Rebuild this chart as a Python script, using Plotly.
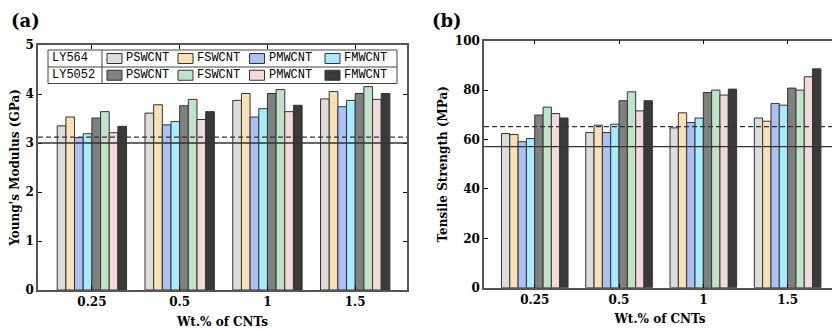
import plotly.graph_objects as go

# ---------------- data ----------------
categories = ["0.25", "0.5", "1", "1.5"]
filler_names = ["PSWCNT", "FSWCNT", "PMWCNT", "FMWCNT"]
resin_names = ["LY564", "LY5052"]

# Young's modulus (GPa)
mod_ly564_pswcnt = [3.35, 3.61, 3.87, 3.90]
mod_ly564_fswcnt = [3.53, 3.78, 4.01, 4.05]
mod_ly564_pmwcnt = [3.11, 3.37, 3.53, 3.74]
mod_ly564_fmwcnt = [3.19, 3.44, 3.70, 3.87]
mod_ly5052_pswcnt = [3.51, 3.76, 4.01, 4.01]
mod_ly5052_fswcnt = [3.64, 3.89, 4.09, 4.15]
mod_ly5052_pmwcnt = [3.21, 3.48, 3.64, 3.89]
mod_ly5052_fmwcnt = [3.34, 3.64, 3.77, 4.01]

# Tensile strength (MPa)
ts_ly564_pswcnt = [62.4, 62.8, 64.7, 68.7]
ts_ly564_fswcnt = [62.0, 65.8, 70.8, 67.4]
ts_ly564_pmwcnt = [59.1, 62.8, 66.9, 74.6]
ts_ly564_fmwcnt = [60.4, 66.2, 68.7, 73.9]
ts_ly5052_pswcnt = [69.9, 75.7, 79.0, 80.8]
ts_ly5052_fswcnt = [73.1, 79.3, 80.0, 80.0]
ts_ly5052_pmwcnt = [70.5, 71.6, 78.0, 85.4]
ts_ly5052_fmwcnt = [68.7, 75.7, 80.4, 88.6]

# neat resin reference values
neat_modulus = [3.0, 3.12]      # LY564 (solid), LY5052 (dashed)
neat_strength = [57.1, 65.2]

# ---------------- style ----------------
colors_ly564 = ["#dcdcdc", "#f8e1b6", "#abc0f5", "#a8ecfb"]
colors_ly5052 = ["#808080", "#c0e2c6", "#f3dada", "#3a3a3a"]
edge = "#333333"
axcol = "#555555"
FONT = "DejaVu Serif"

modulus_series = [mod_ly564_pswcnt, mod_ly564_fswcnt, mod_ly564_pmwcnt, mod_ly564_fmwcnt,
                  mod_ly5052_pswcnt, mod_ly5052_fswcnt, mod_ly5052_pmwcnt, mod_ly5052_fmwcnt]
strength_series = [ts_ly564_pswcnt, ts_ly564_fswcnt, ts_ly564_pmwcnt, ts_ly564_fmwcnt,
                   ts_ly5052_pswcnt, ts_ly5052_fswcnt, ts_ly5052_pmwcnt, ts_ly5052_fmwcnt]
all_colors = colors_ly564 + colors_ly5052
all_names = [f"{r} {f}" for r in resin_names for f in filler_names]

fig = go.Figure()
for series, (xa, ya) in [(modulus_series, ("x", "y")), (strength_series, ("x2", "y2"))]:
    for vals, col, nm in zip(series, all_colors, all_names):
        fig.add_trace(go.Bar(x=categories, y=vals, name=nm, xaxis=xa, yaxis=ya,
                             marker=dict(color=col, line=dict(color=edge, width=1)),
                             showlegend=False))

# page is 840x329 with an 8px body margin -> figure is 832x321, offset by 8px
OFF = 8
W, H = 840 - OFF, 329 - OFF
def px(x):
    return (x - OFF) / W
def py(y):
    return 1 - (y - OFF) / H

tickfont = dict(family=FONT, size=12, color="black", weight="bold")
titlefont = dict(family=FONT, size=12, color="black", weight="bold")
common_x = dict(type="category", ticks="inside", ticklen=4, tickcolor="black",
                showline=True, linecolor=axcol, linewidth=1.5, mirror="ticks",
                showgrid=False, zeroline=False, tickfont=tickfont, automargin=False)
common_y = dict(ticks="inside", ticklen=4, tickcolor="black",
                showline=True, linecolor=axcol, linewidth=1.5, mirror="ticks",
                showgrid=False, zeroline=False, tickfont=tickfont, automargin=False)

fig.update_layout(
    width=W, height=H, margin=dict(l=0, r=0, t=0, b=0),
    paper_bgcolor="white", plot_bgcolor="white",
    barmode="group", bargap=0.21, bargroupgap=0,
    showlegend=False,
    xaxis=dict(common_x, domain=[px(38), px(407)], range=[-0.614, 3.59], anchor="y",
               title=dict(text="Wt.% of CNTs", font=titlefont, standoff=9)),
    yaxis=dict(common_y, domain=[py(290), py(45)], range=[0, 5], dtick=1, anchor="x",
               title=dict(text="Young's Modulus (GPa)", font=titlefont, standoff=6)),
    xaxis2=dict(common_x, domain=[px(484), px(836)], range=[-0.602, 3.574], anchor="y2",
                title=dict(text="Wt.% of CNTs", font=titlefont, standoff=9)),
    yaxis2=dict(common_y, domain=[py(287.7), py(40.7)], range=[0, 100], dtick=20, anchor="x2",
                title=dict(text="Tensile Strength (MPa)", font=titlefont, standoff=5)),
)

# neat resin reference lines
for (xa, ya, vals) in [("x", "y", neat_modulus), ("x2", "y2", neat_strength)]:
    for v, dash in zip(vals, ["solid", "5px,3px"]):
        fig.add_shape(type="line", xref=f"{xa} domain", yref=ya, x0=0, x1=1, y0=v, y1=v,
                      line=dict(color="#333333", width=1.3, dash=dash), layer="above")

# panel labels
for lab, x in [("(a)", 25), ("(b)", 447)]:
    fig.add_annotation(text=f"<b>{lab}</b>", xref="paper", yref="paper", x=px(x), y=py(20),
                       xanchor="center", yanchor="middle",
                       showarrow=False, font=dict(family=FONT, size=18, color="black"))

# custom table legend inside panel (a)
bx0, bx1, by0, by1, bymid, bsep = 48, 397, 50, 83.5, 67, 102
lw = dict(color="#444444", width=1)
fig.add_shape(type="rect", xref="paper", yref="paper", x0=px(bx0), x1=px(bx1),
              y0=py(by1), y1=py(by0), line=lw, fillcolor="white", layer="above")
fig.add_shape(type="line", xref="paper", yref="paper", x0=px(bx0), x1=px(bx1),
              y0=py(bymid), y1=py(bymid), line=lw, layer="above")
fig.add_shape(type="line", xref="paper", yref="paper", x0=px(bsep), x1=px(bsep),
              y0=py(by1), y1=py(by0), line=lw, layer="above")
LEGFONT = dict(family="Liberation Mono", size=12, color="black")
sw_x = [107, 178, 249.5, 325]
row_cy = [(by0 + bymid) / 2, (bymid + by1) / 2]
for r, (resin, cols) in enumerate(zip(resin_names, [colors_ly564, colors_ly5052])):
    cy = row_cy[r]
    fig.add_annotation(text=resin, xref="paper", yref="paper", x=px(50), y=py(cy),
                       xanchor="left", yanchor="middle", showarrow=False, font=LEGFONT)
    for sx, nm, col in zip(sw_x, filler_names, cols):
        fig.add_shape(type="rect", xref="paper", yref="paper", x0=px(sx), x1=px(sx + 15),
                      y0=py(cy + 5), y1=py(cy - 5), fillcolor=col,
                      line=dict(color=edge, width=1), layer="above")
        fig.add_annotation(text=nm, xref="paper", yref="paper", x=px(sx + 17), y=py(cy),
                           xanchor="left", yanchor="middle", showarrow=False, font=LEGFONT)

fig.write_html("out.html")
